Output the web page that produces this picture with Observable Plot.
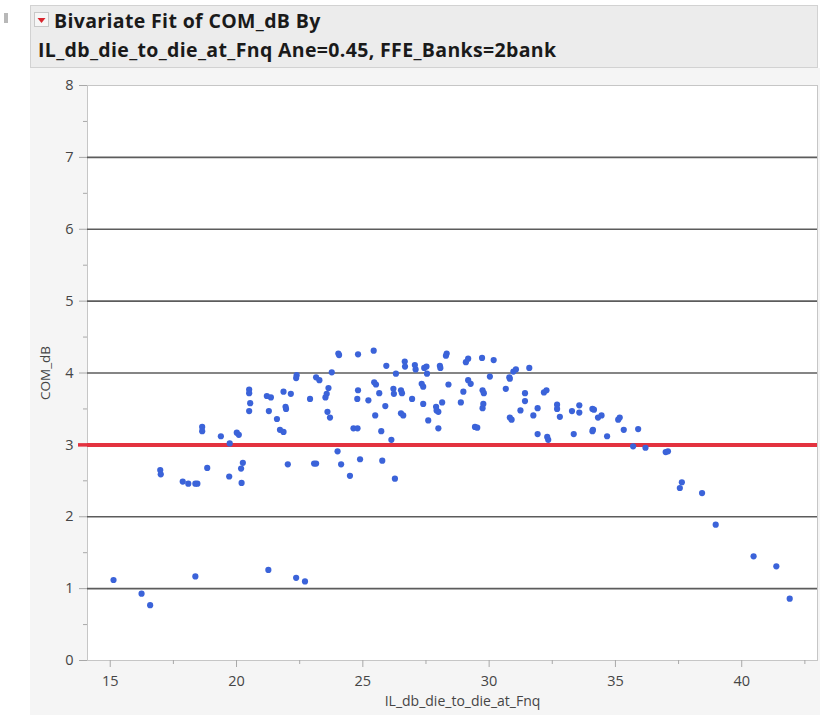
<!DOCTYPE html>
<html>
<head>
<meta charset="utf-8">
<script src="https://cdn.jsdelivr.net/npm/d3@7"></script>
<script src="https://cdn.jsdelivr.net/npm/@observablehq/plot@0.6"></script>
<style>
  html, body { margin: 0; padding: 0; background: #ffffff; width: 820px; height: 715px; overflow: hidden; }
  #handle { position: absolute; left: 4px; top: 13px; width: 4px; height: 10px; background: #b8b8b8; }
  #titlebox { position: absolute; left: 30px; top: 5px; width: 788px; height: 63px; background: #ececec; border: 1px solid #d2d2d2; box-sizing: border-box; }
  #icon { position: absolute; left: 3px; top: 6px; width: 15px; height: 15px; background: #f6f6f6; border: 1px solid #c8c8c8; box-sizing: border-box; }
  .t { position: absolute; font-family: "Open Sans", sans-serif; font-weight: 700; font-size: 19.5px; letter-spacing: 0.35px; color: #1a1a1a; white-space: nowrap; line-height: 1; }
  #t1 { left: 23px; top: 5px; }
  #t2 { left: 7px; top: 34px; }
  #panel { position: absolute; left: 30px; top: 68px; width: 790px; height: 647px; background: #f5f5f5; }
  #chart { position: absolute; left: 0; top: 70px; }
</style>
</head>
<body>
<div id="handle"></div>
<div id="titlebox">
  <div id="icon"><svg width="13" height="13"><polygon points="2.5,4 10.5,4 6.5,9" fill="#d9262e"/></svg></div>
  <div class="t" id="t1">Bivariate Fit of COM_dB By</div>
  <div class="t" id="t2">IL_db_die_to_die_at_Fnq Ane=0.45, FFE_Banks=2bank</div>
</div>
<div id="panel"></div>
<div id="chart"></div>
<script>
// Data
const ilDb = [
  20.5, 20.5, 20.54, 20.5, 21.2, 21.36, 21.28, 21.6, 21.72, 21.86,
  18.64, 18.64, 19.38, 20.01, 20.09, 19.73, 16.98, 17.0, 18.84, 20.25,
  20.18, 19.71, 20.2, 17.87, 18.09, 18.37, 18.45,
  15.13, 16.24, 16.58, 18.37, 21.26, 22.36, 22.71,
  24.03, 24.06, 24.81, 25.43, 25.93, 26.66, 26.67, 27.06, 27.09, 27.43,
  27.52, 27.54, 28.05, 28.07, 28.32, 28.29, 26.31, 22.38, 22.36, 23.15,
  23.28, 23.77, 21.86, 22.15, 22.91, 23.64, 23.57, 23.52, 24.81, 24.78,
  25.22, 25.45, 25.52, 25.65, 25.89, 26.21, 26.23, 26.51, 26.55, 26.95,
  27.33, 27.39, 27.39, 27.9, 27.92, 27.99, 28.14, 28.39, 28.88, 28.98,
  21.94, 21.96, 23.6, 23.7, 24.63, 24.79, 25.49, 25.73, 26.13, 26.51,
  26.6, 27.59, 27.99, 24.0, 24.89, 25.77, 22.03, 23.07, 23.15, 24.14,
  24.49, 26.27,
  29.08, 29.17, 29.72, 30.18, 30.96, 31.06, 30.8, 30.82, 31.59, 29.17,
  29.27, 30.03, 29.74, 29.79, 29.77, 29.74, 29.44, 29.53, 30.66, 30.82,
  30.89, 31.24, 31.42, 31.42, 31.75, 31.92, 32.17, 32.27, 31.92, 32.3,
  32.34, 32.69, 32.69, 32.8, 33.28, 33.57, 33.57, 33.35, 34.09, 34.15,
  34.31, 34.45, 34.09, 34.11, 34.67, 35.11, 35.17, 35.33, 35.9, 35.7,
  36.19,
  36.99, 37.08, 37.63, 37.55, 38.43, 38.97, 40.47, 41.37, 41.9
];
const comDb = [
  3.77, 3.72, 3.58, 3.47, 3.68, 3.66, 3.47, 3.36, 3.21, 3.18,
  3.25, 3.19, 3.12, 3.17, 3.14, 3.02, 2.65, 2.59, 2.68, 2.75,
  2.67, 2.56, 2.47, 2.49, 2.46, 2.46, 2.46,
  1.12, 0.93, 0.77, 1.17, 1.26, 1.15, 1.10,
  4.27, 4.25, 4.26, 4.31, 4.10, 4.16, 4.09, 4.11, 4.05, 4.07,
  4.09, 3.99, 4.10, 4.07, 4.27, 4.24, 3.99, 3.97, 3.93, 3.94,
  3.90, 4.01, 3.74, 3.71, 3.64, 3.79, 3.71, 3.66, 3.76, 3.64,
  3.62, 3.87, 3.84, 3.72, 3.54, 3.78, 3.71, 3.76, 3.72, 3.64,
  3.85, 3.81, 3.57, 3.53, 3.48, 3.46, 3.59, 3.84, 3.59, 3.74,
  3.53, 3.50, 3.46, 3.38, 3.23, 3.23, 3.41, 3.19, 3.07, 3.44,
  3.41, 3.34, 3.23, 2.91, 2.80, 2.78, 2.73, 2.74, 2.74, 2.73,
  2.57, 2.53,
  4.15, 4.20, 4.21, 4.18, 4.02, 4.05, 3.94, 3.92, 4.07, 3.90,
  3.85, 3.95, 3.76, 3.72, 3.57, 3.51, 3.25, 3.24, 3.78, 3.38,
  3.35, 3.48, 3.72, 3.61, 3.41, 3.51, 3.73, 3.76, 3.15, 3.11,
  3.07, 3.56, 3.50, 3.39, 3.47, 3.55, 3.45, 3.15, 3.50, 3.49,
  3.38, 3.41, 3.19, 3.21, 3.12, 3.35, 3.38, 3.21, 3.22, 2.98,
  2.96,
  2.90, 2.91, 2.48, 2.40, 2.33, 1.89, 1.45, 1.31, 0.86
];
const xTicks = [15, 20, 25, 30, 35, 40];
const xMinorTicks = [17.5, 22.5, 27.5, 32.5, 37.5, 42.5];
const yTicks = [0, 1, 2, 3, 4, 5, 6, 7, 8];
const yMinorTicks = [0.5, 1.5, 2.5, 3.5, 4.5, 5.5, 6.5, 7.5];
const gridLines = [1, 2, 4, 5, 6, 7];
const referenceLine = [3];
const xLabel = "IL_db_die_to_die_at_Fnq";
const yLabel = "COM_dB";

const points = ilDb.map((x, i) => ({x, y: comDb[i]}));
const red = "#e3323f";

const chart = Plot.plot({
  width: 820,
  height: 645,
  marginLeft: 87,
  marginRight: 3,
  marginTop: 15,
  marginBottom: 55,
  style: {background: "transparent", fontFamily: "'Open Sans', sans-serif", fontSize: "14px", color: "#454545"},
  x: {domain: [14.1, 43], label: null},
  y: {domain: [0, 8], label: null},
  marks: [
    Plot.frame({fill: "white", stroke: "#c6c6c6"}),
    Plot.ruleY(gridLines, {stroke: "#5c5c5c", strokeWidth: 1.6}),
    Plot.ruleY(referenceLine, {stroke: red, strokeWidth: 4}),
    Plot.dot(points, {x: "x", y: "y", r: 3.1, fill: "#3b63d9", stroke: "none"}),
    Plot.axisX(xTicks, {tickSize: 7, tickPadding: 8, stroke: "#a8a8a8", fill: "#454545", label: null, fontSize: 14.5, tickFormat: d3.format("d")}),
    Plot.axisX(xMinorTicks, {tickSize: 4, stroke: "#a8a8a8", fill: "none", label: null}),
    Plot.axisY(yTicks, {tickSize: 8, tickPadding: 6, stroke: "#a8a8a8", fill: "#454545", label: null, fontSize: 14.5, tickFormat: d3.format("d")}),
    Plot.axisY(yMinorTicks, {tickSize: 4, stroke: "#a8a8a8", fill: "none", label: null}),
    Plot.axisY(referenceLine, {tickSize: 9, stroke: red, strokeWidth: 3.5, fill: "none", label: null}),
    Plot.text([xLabel], {frameAnchor: "bottom", dy: 45, dx: 10, textAnchor: "middle", fill: "#454545", fontSize: 14}),
    Plot.text([yLabel], {frameAnchor: "left", dx: -42, rotate: -90, textAnchor: "middle", fill: "#454545", fontSize: 13.5})
  ]
});
document.getElementById("chart").appendChild(chart);
</script>
</body>
</html>
